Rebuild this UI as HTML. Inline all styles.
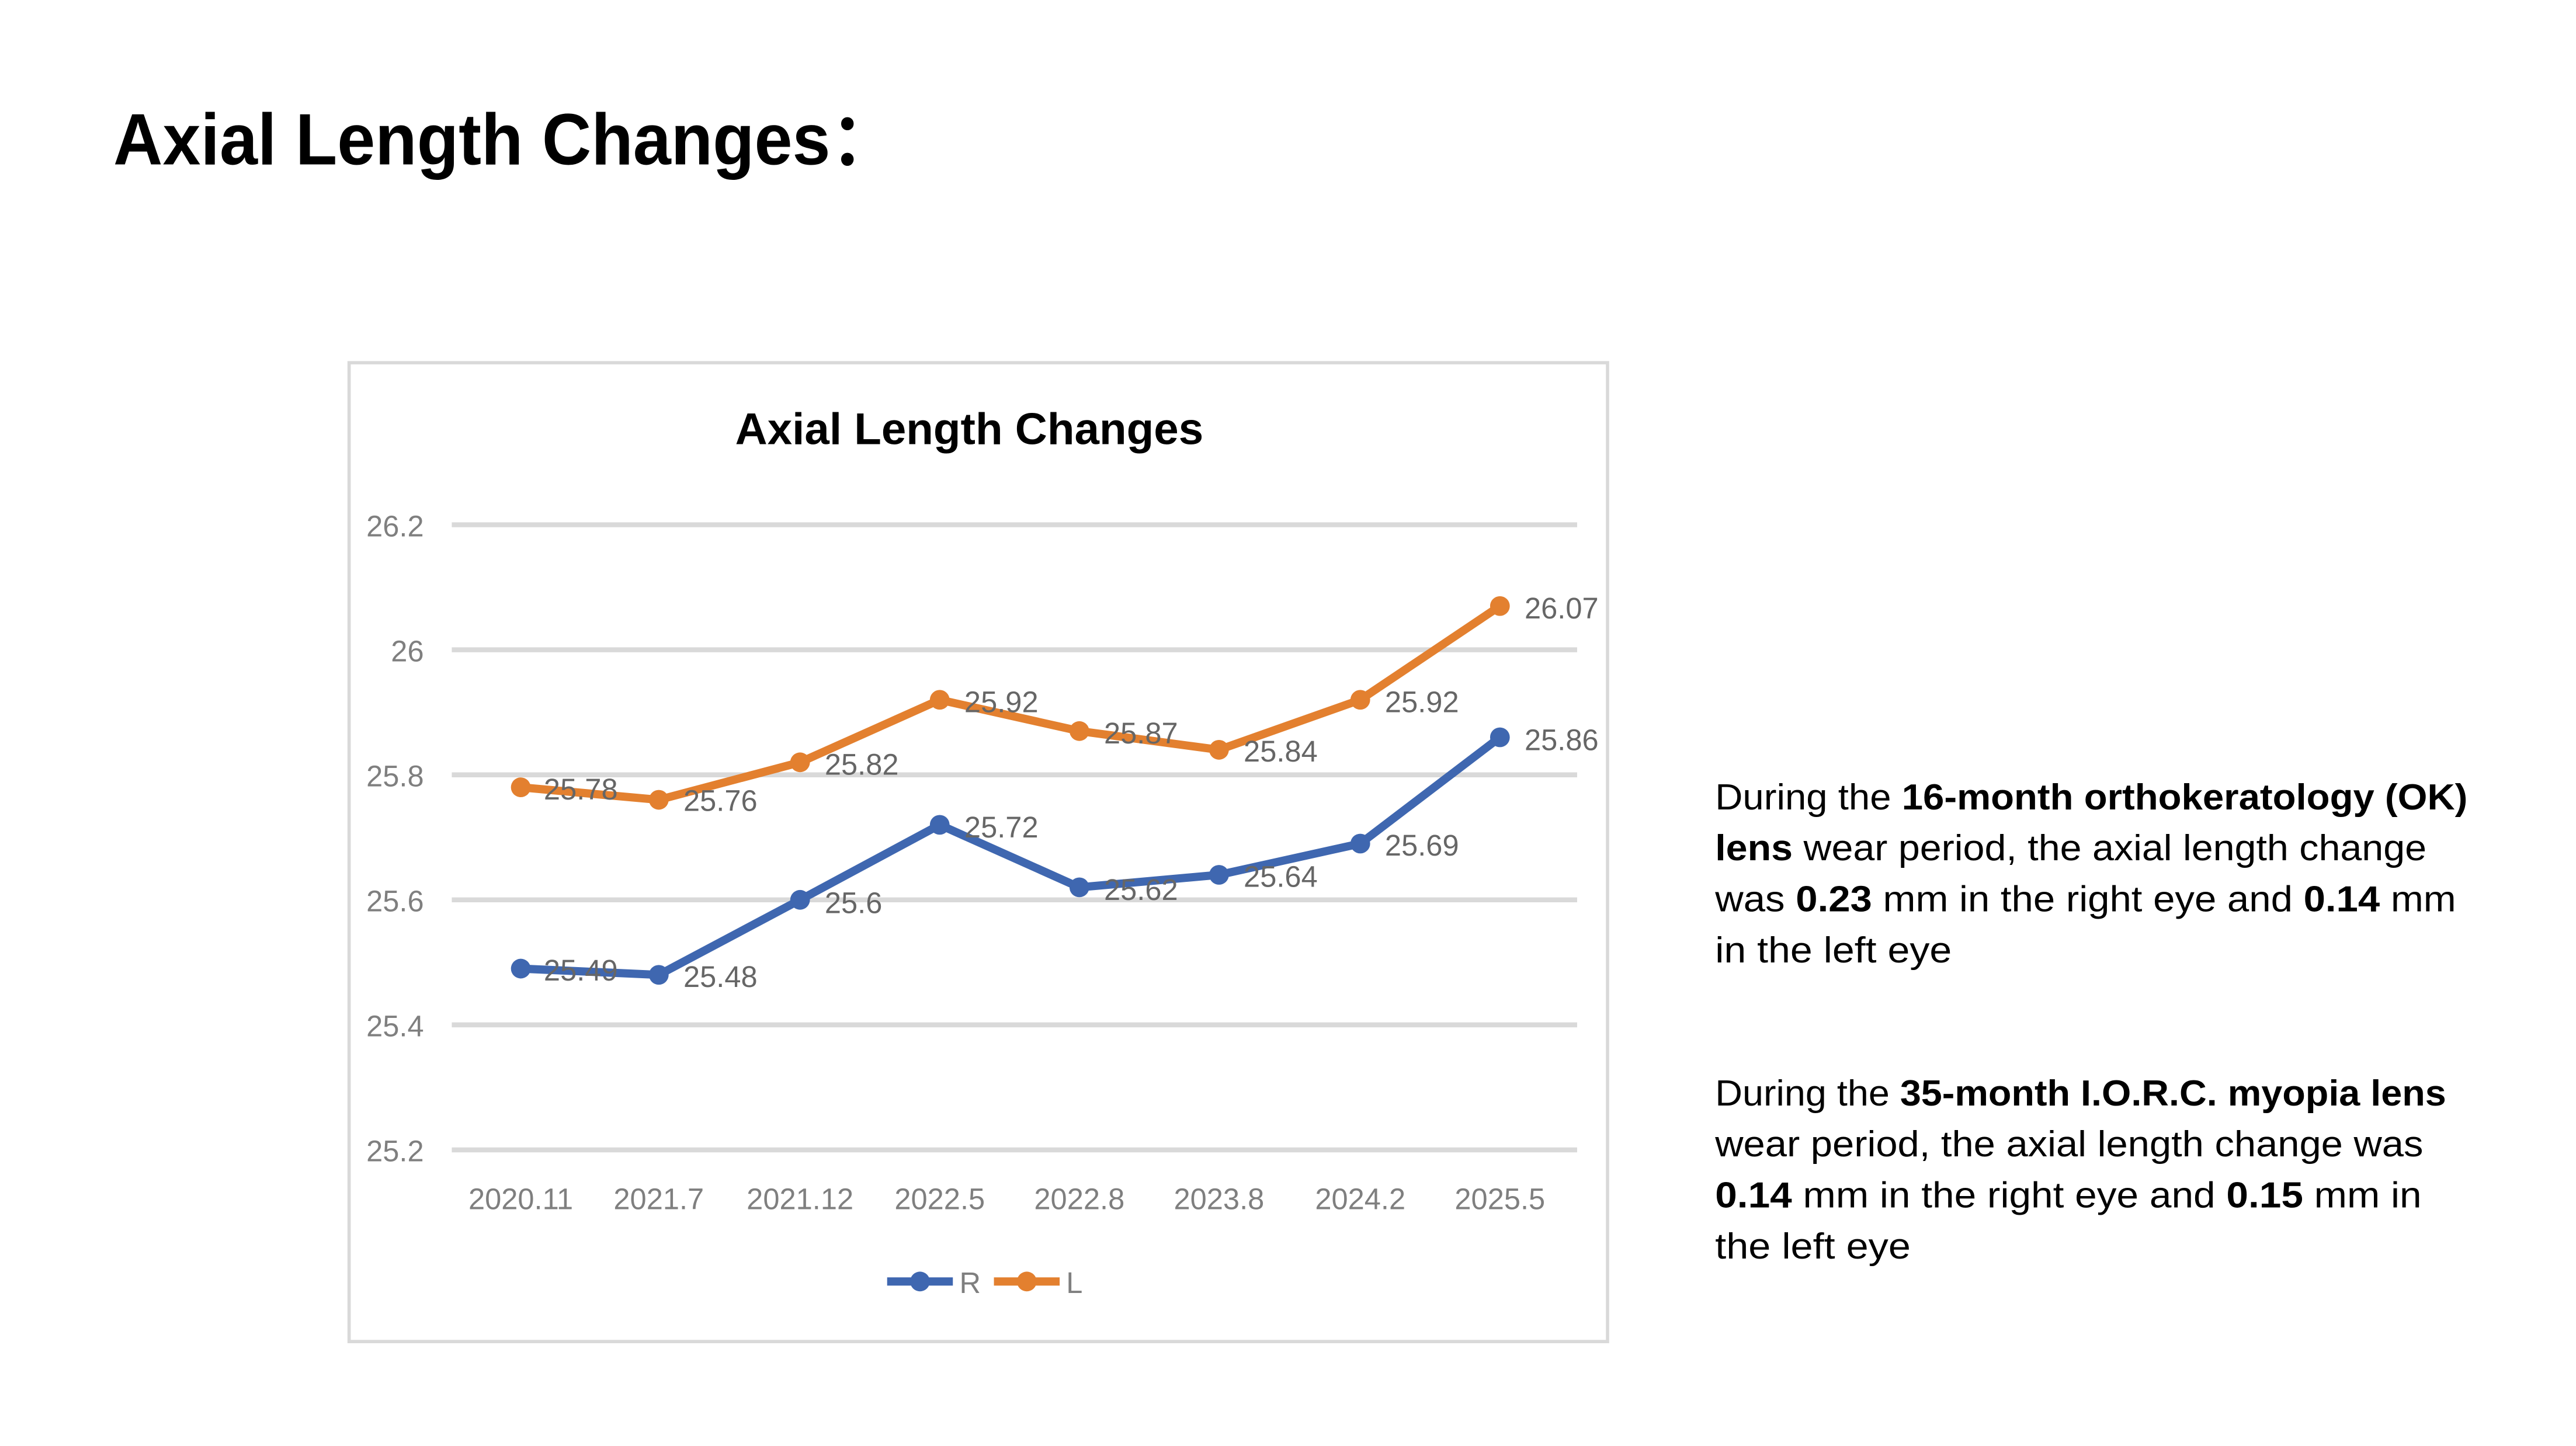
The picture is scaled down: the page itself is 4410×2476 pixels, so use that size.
<!DOCTYPE html>
<html><head><meta charset="utf-8"><style>
html,body{margin:0;padding:0;background:#fff;}
svg{display:block;}
</style></head><body>
<svg width="4410" height="2476" viewBox="0 0 1568 879" preserveAspectRatio="none" xmlns="http://www.w3.org/2000/svg">
<rect width="1568" height="879" fill="#fff"/>
<text x="69" y="100" font-family="Liberation Sans, sans-serif" font-weight="bold" font-size="44" textLength="478" lengthAdjust="spacingAndGlyphs" fill="#000">Axial Length Changes：</text>

<rect x="212.5" y="220.5" width="766" height="595" fill="#fff" stroke="#d9d9d9" stroke-width="2"/>
<text x="590" y="270" text-anchor="middle" font-family="Liberation Sans, sans-serif" font-weight="bold" font-size="27" textLength="285" lengthAdjust="spacingAndGlyphs" fill="#000">Axial Length Changes</text>

<g stroke="#d9d9d9" stroke-width="3">
<line x1="275" y1="319" x2="960" y2="319"/>
<line x1="275" y1="395" x2="960" y2="395"/>
<line x1="275" y1="471" x2="960" y2="471"/>
<line x1="275" y1="547" x2="960" y2="547"/>
<line x1="275" y1="623" x2="960" y2="623"/>
<line x1="275" y1="699" x2="960" y2="699"/>
</g>
<g font-family="Liberation Sans, sans-serif" font-size="18" fill="#7f7f7f" text-anchor="end">
<text x="258" y="326">26.2</text>
<text x="258" y="402">26</text>
<text x="258" y="478">25.8</text>
<text x="258" y="554">25.6</text>
<text x="258" y="630">25.4</text>
<text x="258" y="706">25.2</text>
</g>
<g font-family="Liberation Sans, sans-serif" font-size="18" fill="#7f7f7f" text-anchor="middle">
<text x="317" y="735">2020.11</text>
<text x="401" y="735">2021.7</text>
<text x="487" y="735">2021.12</text>
<text x="572" y="735">2022.5</text>
<text x="657" y="735">2022.8</text>
<text x="742" y="735">2023.8</text>
<text x="828" y="735">2024.2</text>
<text x="913" y="735">2025.5</text>
</g>

<polyline fill="none" stroke="#e3802f" stroke-width="5" stroke-linejoin="round" points="317,478.6 401,486.2 487,463.4 572,425.4 657,444.4 742,455.8 828,425.4 913,368.4"/>
<g fill="#e3802f">
<circle cx="317" cy="478.6" r="6"/><circle cx="401" cy="486.2" r="6"/><circle cx="487" cy="463.4" r="6"/><circle cx="572" cy="425.4" r="6"/><circle cx="657" cy="444.4" r="6"/><circle cx="742" cy="455.8" r="6"/><circle cx="828" cy="425.4" r="6"/><circle cx="913" cy="368.4" r="6"/>
</g>
<polyline fill="none" stroke="#3f67b0" stroke-width="5" stroke-linejoin="round" points="317,588.8 401,592.6 487,547 572,501.4 657,539.4 742,531.8 828,512.8 913,448.2"/>
<g fill="#3f67b0">
<circle cx="317" cy="588.8" r="6"/><circle cx="401" cy="592.6" r="6"/><circle cx="487" cy="547" r="6"/><circle cx="572" cy="501.4" r="6"/><circle cx="657" cy="539.4" r="6"/><circle cx="742" cy="531.8" r="6"/><circle cx="828" cy="512.8" r="6"/><circle cx="913" cy="448.2" r="6"/>
</g>

<g font-family="Liberation Sans, sans-serif" font-size="18" fill="#666">
<text x="331" y="486">25.78</text>
<text x="416" y="493">25.76</text>
<text x="502" y="471">25.82</text>
<text x="587" y="433">25.92</text>
<text x="672" y="452">25.87</text>
<text x="757" y="463">25.84</text>
<text x="843" y="433">25.92</text>
<text x="928" y="376">26.07</text>
<text x="331" y="596">25.49</text>
<text x="416" y="600">25.48</text>
<text x="502" y="555">25.6</text>
<text x="587" y="509">25.72</text>
<text x="672" y="547">25.62</text>
<text x="757" y="539">25.64</text>
<text x="843" y="520">25.69</text>
<text x="928" y="456">25.86</text>
</g>

<line x1="540" y1="779" x2="580" y2="779" stroke="#3f67b0" stroke-width="5"/>
<circle cx="560" cy="779" r="6" fill="#3f67b0"/>
<text x="584" y="786" font-family="Liberation Sans, sans-serif" font-size="18" fill="#7f7f7f">R</text>
<line x1="605" y1="779" x2="645" y2="779" stroke="#e3802f" stroke-width="5"/>
<circle cx="625" cy="779" r="6" fill="#e3802f"/>
<text x="649" y="786" font-family="Liberation Sans, sans-serif" font-size="18" fill="#7f7f7f">L</text>

<g font-family="Liberation Sans, sans-serif" font-size="22" fill="#000">
<text x="1044" y="492" textLength="458" lengthAdjust="spacingAndGlyphs">During the <tspan font-weight="bold">16-month orthokeratology (OK)</tspan></text>
<text x="1044" y="523" textLength="433" lengthAdjust="spacingAndGlyphs"><tspan font-weight="bold">lens</tspan> wear period, the axial length change</text>
<text x="1044" y="554" textLength="451" lengthAdjust="spacingAndGlyphs">was <tspan font-weight="bold">0.23</tspan> mm in the right eye and <tspan font-weight="bold">0.14</tspan> mm</text>
<text x="1044" y="585" textLength="144" lengthAdjust="spacingAndGlyphs">in the left eye</text>
<text x="1044" y="672" textLength="445" lengthAdjust="spacingAndGlyphs">During the <tspan font-weight="bold">35-month I.O.R.C. myopia lens</tspan></text>
<text x="1044" y="703" textLength="431" lengthAdjust="spacingAndGlyphs">wear period, the axial length change was</text>
<text x="1044" y="734" textLength="430" lengthAdjust="spacingAndGlyphs"><tspan font-weight="bold">0.14</tspan> mm in the right eye and <tspan font-weight="bold">0.15</tspan> mm in</text>
<text x="1044" y="765" textLength="119" lengthAdjust="spacingAndGlyphs">the left eye</text>
</g>
</svg>
</body></html>
